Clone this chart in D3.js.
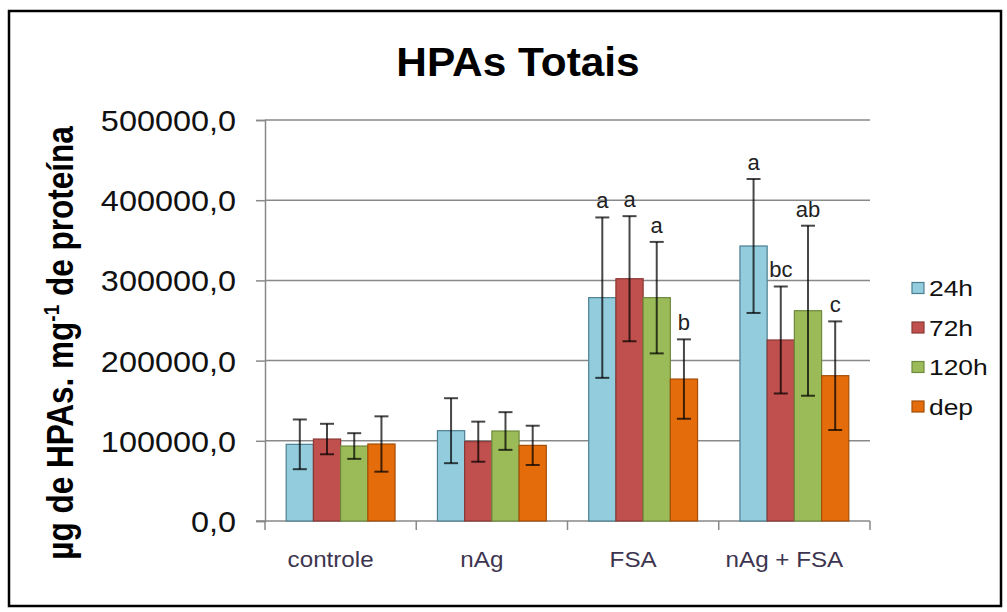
<!DOCTYPE html>
<html>
<head>
<meta charset="utf-8">
<script src="https://cdn.jsdelivr.net/npm/d3@7"></script>
<style>
  html, body { margin: 0; padding: 0; background: #fff; }
  svg { display: block; font-family: "Liberation Sans", Arial, sans-serif; }
</style>
</head>
<body>
<svg id="chart" width="1007" height="612"></svg>
<script>
// Total PAH content per treatment group and sampling time
const categories = ["controle", "nAg", "FSA", "nAg + FSA"];
const seriesNames = ["24h", "72h", "120h", "dep"];

const values24h  = [95600, 112600, 278500, 342900];
const values72h  = [102200, 98900, 302100, 225700];
const values120h = [93500, 112200, 278500, 262200];
const valuesDep  = [96000, 94300, 177000, 181200];

const err24h  = [31000, 40500, 100000, 83500];
const err72h  = [19000, 25000, 78000, 66700];
const err120h = [16000, 23500, 69500, 106000];
const errDep  = [34500, 24500, 49500, 67700];

// Significance letters (empty = none shown)
const letters24h  = ["", "", "a", "a"];
const letters72h  = ["", "", "a", "bc"];
const letters120h = ["", "", "a", "ab"];
const lettersDep  = ["", "", "b", "c"];

const yTicks = [0, 100000, 200000, 300000, 400000, 500000];

const seriesValues = [values24h, values72h, values120h, valuesDep];
const seriesErrors = [err24h, err72h, err120h, errDep];
const seriesLetters = [letters24h, letters72h, letters120h, lettersDep];

const fills   = ["#93cddd", "#c0504d", "#9bbb59", "#e46c0a"];
const strokes = ["#4b7f90", "#8a3735", "#6e8a3c", "#a44e07"];

const svg = d3.select("#chart");

// frame
svg.append("rect")
  .attr("x", 9).attr("y", 11).attr("width", 992).attr("height", 595)
  .attr("fill", "none").attr("stroke", "#000").attr("stroke-width", 2.5);

const plot = { left: 265, right: 870, top: 120, bottom: 521 };

const x0 = d3.scaleBand().domain(categories).range([plot.left, plot.right]).padding(0);
const groupPad = 21.2;
const x1 = d3.scaleBand().domain(seriesNames)
  .range([groupPad, x0.bandwidth() - groupPad]).padding(0);
const y = d3.scaleLinear().domain([0, 500000]).range([plot.bottom, plot.top]);

// helper: text stretched horizontally around its anchor
function stretchedText(g, x, yy, sx, rotate) {
  const t = g.append("g")
    .attr("transform", `translate(${x},${yy}) scale(${sx},1)` + (rotate ? ` rotate(${rotate})` : ""));
  return t.append("text").attr("x", 0).attr("y", 0);
}

// title
stretchedText(svg, 518, 76, 1.06)
  .attr("text-anchor", "middle")
  .attr("font-size", 40).attr("font-weight", "bold").attr("fill", "#000")
  .text("HPAs Totais");

// gridlines
svg.append("g").selectAll("line")
  .data(yTicks.filter(d => d > 0))
  .join("line")
  .attr("x1", plot.left).attr("x2", plot.right)
  .attr("y1", d => y(d)).attr("y2", d => y(d))
  .attr("stroke", "#898989").attr("stroke-width", 1.5);

// y axis
const yAxis = d3.axisLeft(y).tickValues(yTicks).tickSize(9).tickFormat("");
const yAxisG = svg.append("g").attr("transform", `translate(${plot.left},0)`).call(yAxis);
yAxisG.select(".domain").attr("stroke", "#898989").attr("stroke-width", 1.5);
yAxisG.selectAll(".tick line").attr("stroke", "#898989").attr("stroke-width", 1.5);

const fmt = d => d3.format(".1f")(d).replace(".", ",");
const yLab = svg.append("g");
yTicks.forEach(t => {
  stretchedText(yLab, 236, y(t) + 11, 1.08)
    .attr("text-anchor", "end")
    .attr("font-size", 30).attr("fill", "#111")
    .text(fmt(t));
});

// x axis: boundary ticks between categories
const boundaries = categories.map(c => x0(c)).concat([plot.right]);
svg.append("line")
  .attr("x1", plot.left - 9).attr("x2", plot.right)
  .attr("y1", plot.bottom).attr("y2", plot.bottom)
  .attr("stroke", "#898989").attr("stroke-width", 1.5);
svg.append("g").selectAll("line").data(boundaries).join("line")
  .attr("x1", d => d).attr("x2", d => d)
  .attr("y1", plot.bottom).attr("y2", plot.bottom + 9)
  .attr("stroke", "#898989").attr("stroke-width", 1.5);

const xLab = svg.append("g");
categories.forEach(c => {
  stretchedText(xLab, x0(c) + x0.bandwidth() / 2 - 10, 567, 1.1)
    .attr("text-anchor", "middle")
    .attr("font-size", 22).attr("fill", "#3d3550")
    .text(c);
});

// bars
const rows = [];
categories.forEach((c, ci) => {
  seriesNames.forEach((s, si) => {
    rows.push({
      cat: c, series: s, si,
      value: seriesValues[si][ci],
      err: seriesErrors[si][ci],
      letter: seriesLetters[si][ci]
    });
  });
});

const barG = svg.append("g");
barG.selectAll("rect").data(rows).join("rect")
  .attr("x", d => x0(d.cat) + x1(d.series))
  .attr("width", x1.bandwidth())
  .attr("y", d => y(d.value))
  .attr("height", d => y(0) - y(d.value))
  .attr("fill", d => fills[d.si])
  .attr("stroke", d => strokes[d.si])
  .attr("stroke-width", 1.2);

// error bars
const errG = svg.append("g")
  .attr("stroke", "#000").attr("stroke-opacity", 0.72).attr("stroke-width", 2);
const cx = d => x0(d.cat) + x1(d.series) + x1.bandwidth() / 2;
const capW = 7;
errG.selectAll("line.v").data(rows).join("line").attr("class", "v")
  .attr("x1", cx).attr("x2", cx)
  .attr("y1", d => y(d.value + d.err)).attr("y2", d => y(d.value - d.err));
errG.selectAll("line.top").data(rows).join("line").attr("class", "top")
  .attr("x1", d => cx(d) - capW).attr("x2", d => cx(d) + capW)
  .attr("y1", d => y(d.value + d.err)).attr("y2", d => y(d.value + d.err));
errG.selectAll("line.bot").data(rows).join("line").attr("class", "bot")
  .attr("x1", d => cx(d) - capW).attr("x2", d => cx(d) + capW)
  .attr("y1", d => y(d.value - d.err)).attr("y2", d => y(d.value - d.err));

// significance letters
svg.append("g").selectAll("text").data(rows.filter(d => d.letter)).join("text")
  .attr("x", cx)
  .attr("y", d => y(d.value + d.err) - 9)
  .attr("text-anchor", "middle")
  .attr("font-size", 22).attr("fill", "#222")
  .text(d => d.letter);

// y-axis title
const yt = stretchedText(svg, 73, 343, 1.2, -90)
  .attr("text-anchor", "middle")
  .attr("font-size", 31.5).attr("font-weight", "bold").attr("fill", "#000");
yt.append("tspan").text("µg de HPAs. mg");
yt.append("tspan").attr("font-size", 19).attr("dy", -12).text("-1");
yt.append("tspan").attr("dy", 12).text(" de proteína");

// legend
const legend = svg.append("g");
seriesNames.forEach((s, i) => {
  const cy = 288 + i * 39.5;
  legend.append("rect")
    .attr("x", 912).attr("y", cy - 5.5).attr("width", 12).attr("height", 11)
    .attr("fill", fills[i]).attr("stroke", strokes[i]).attr("stroke-width", 1.2);
  stretchedText(legend, 929, cy + 8, 1.2)
    .attr("font-size", 22).attr("fill", "#111")
    .text(s);
});
</script>
</body>
</html>
